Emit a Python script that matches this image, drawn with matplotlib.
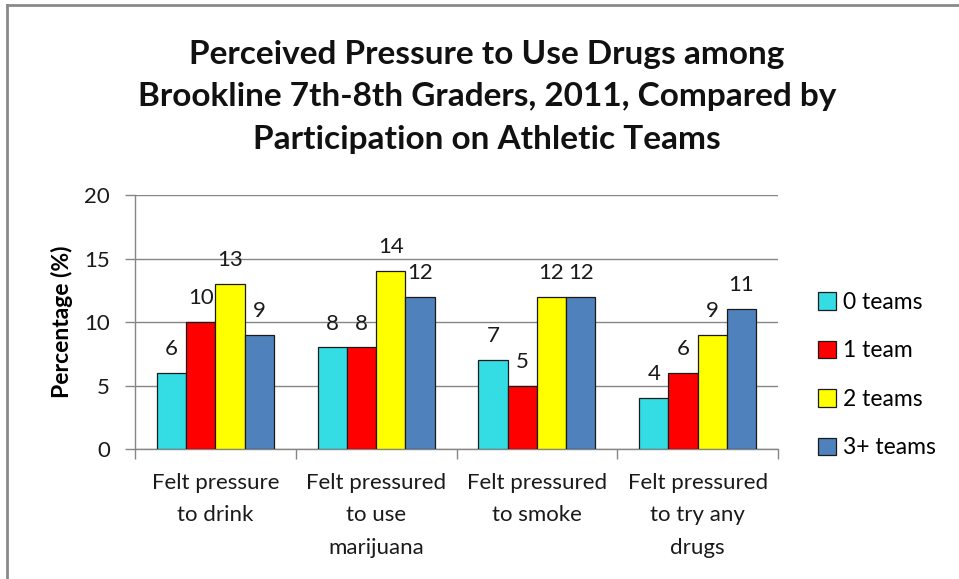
import matplotlib.pyplot as plt
from matplotlib.lines import Line2D
import numpy as np

# Data
categories = ['Felt pressure\nto drink', 'Felt pressured\nto use\nmarijuana',
              'Felt pressured\nto smoke', 'Felt pressured\nto try any\ndrugs']
series_names = ['0 teams', '1 team', '2 teams', '3+ teams']
values_0 = [6, 8, 7, 4]
values_1 = [10, 8, 5, 6]
values_2 = [13, 14, 12, 9]
values_3 = [9, 12, 12, 11]
colors = ['#33DDE3', '#FF0000', '#FFFF00', '#4F81BD']
yticks = [0, 5, 10, 15, 20]

plt.rcParams['font.family'] = ['Lato', 'DejaVu Sans']

fig = plt.figure(figsize=(9.59, 5.79), dpi=100)
ax = fig.add_axes([0.1408, 0.2245, 0.6705, 0.4387])

x = np.arange(len(categories))
width = 0.182
all_values = [values_0, values_1, values_2, values_3]
for k, (vals, name, col) in enumerate(zip(all_values, series_names, colors)):
    bars = ax.bar(x + (k - 1.5) * width, vals, width, color=col, edgecolor='#1a1a1a',
                  linewidth=0.9, label=name, zorder=3)
    for b, v in zip(bars, vals):
        ax.annotate(str(v), (b.get_x() + b.get_width() / 2, v), xytext=(0, 10),
                    textcoords='offset points', ha='center', va='bottom',
                    fontsize=16, color='#1a1a1a')

ax.set_xlim(-0.5, len(categories) - 0.5)
ax.set_ylim(0, 20)
ax.set_yticks(yticks)
ax.set_xticks(x)
ax.set_xticklabels(categories, fontsize=16, linespacing=1.78, color='#1a1a1a')
ax.set_xticks(np.arange(len(categories) + 1) - 0.5, minor=True)
ax.tick_params(axis='x', which='major', length=0, pad=17)
ax.tick_params(axis='x', which='minor', length=7, color='#868686', width=1)
ax.tick_params(axis='y', length=7, color='#868686', width=1, labelsize=16,
               labelcolor='#1a1a1a', pad=11)
ax.grid(axis='y', color='#868686', linewidth=1, zorder=0)
for side in ['top', 'right']:
    ax.spines[side].set_visible(False)
for side in ['left', 'bottom']:
    ax.spines[side].set_color('#868686')
    ax.spines[side].set_linewidth(1)

ax.set_ylabel('Percentage (%)', fontsize=16.5, fontweight='bold', labelpad=8)

fig.text(0.508, 0.8325, 'Perceived Pressure to Use Drugs among\n'
         'Brookline 7th-8th Graders, 2011, Compared by\n'
         'Participation on Athletic Teams',
         ha='center', va='center', fontsize=24, fontweight='bold',
         linespacing=1.58, color='#111111')

fig.legend(loc='center left', bbox_to_anchor=(0.853, 0.352), frameon=False,
           fontsize=16.5, handlelength=0.8, handleheight=0.8,
           handletextpad=0.3, labelspacing=1.2, borderpad=0, borderaxespad=0)

# chart border (left and top edges visible in the picture)
fig.add_artist(Line2D([7 / 959, 7 / 959], [0, 1 - 5 / 579], color='#8a8a8a', linewidth=2))
fig.add_artist(Line2D([7 / 959, 1], [1 - 5 / 579, 1 - 5 / 579], color='#8a8a8a', linewidth=2))

fig.savefig('out.png', dpi=100)
